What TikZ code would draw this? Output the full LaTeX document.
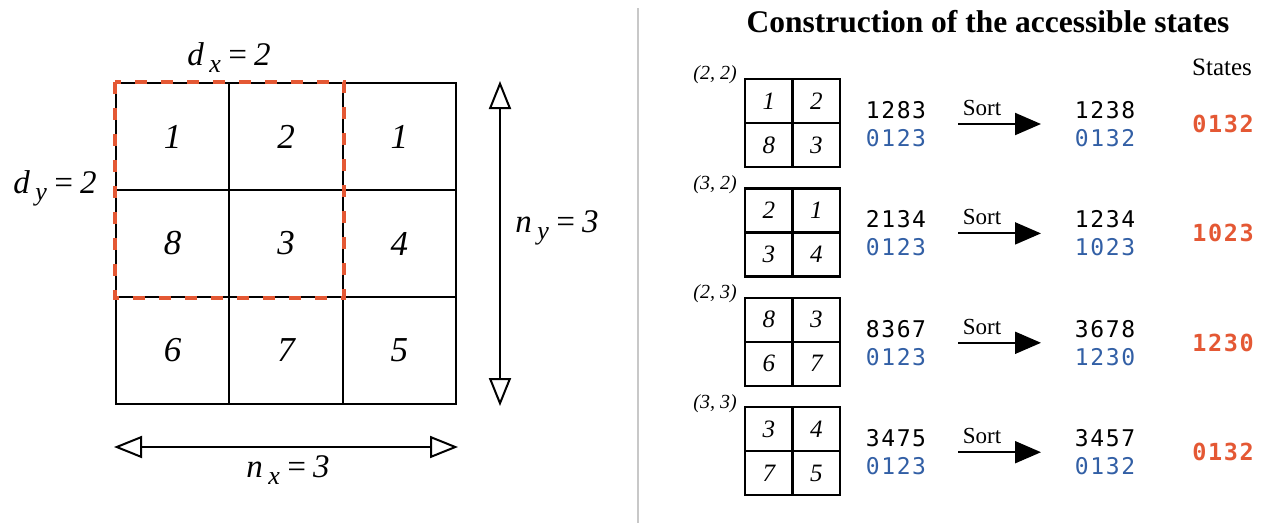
\documentclass[tikz,border=0pt]{standalone}
\usepackage{fontspec}
\setmainfont{Liberation Serif}
\setmonofont[LetterSpace=7]{DejaVu Sans Mono}
\usetikzlibrary{arrows.meta}
\definecolor{dashred}{RGB}{228,88,52}
\definecolor{idxblue}{RGB}{50,95,165}
\definecolor{divgray}{RGB}{200,200,200}
\newcommand{\subl}[3]{#1\,\raisebox{-7pt}{\fontsize{26}{26}\selectfont #2}\,=\,#3}
\begin{document}
\begin{tikzpicture}[x=1pt,y=-1pt,
  bigcell/.style={draw, line width=2.2pt, minimum width=113.33pt, minimum height=107pt, inner sep=0pt, font=\fontsize{35}{35}\selectfont\itshape},
  smallcell/.style={draw, line width=2.4pt, minimum width=47.5pt, minimum height=44pt, inner sep=0pt, font=\fontsize{25}{25}\selectfont\itshape},
  dimlabel/.style={inner sep=0pt, font=\fontsize{33}{33}\selectfont\itshape},
  coordlabel/.style={inner sep=0pt, font=\fontsize{20}{20}\selectfont\itshape},
  rawnum/.style={inner sep=0pt, font=\fontsize{23}{23}\selectfont\ttfamily},
  idxnum/.style={inner sep=0pt, text=idxblue, font=\fontsize{23}{23}\selectfont\ttfamily},
  statenum/.style={inner sep=0pt, text=dashred, font=\fontsize{23.5}{23.5}\selectfont\ttfamily\bfseries},
  sortlabel/.style={inner sep=0pt, font=\fontsize{23}{23}\selectfont},
  dimarrow/.style={line width=2pt, {Triangle[open,length=28pt,width=22pt,line width=2pt]}-{Triangle[open,length=28pt,width=22pt,line width=2pt]}},
  sortarrow/.style={line width=2pt, -{Triangle[length=26pt,width=22pt]}}
]
\useasboundingbox (0,0) rectangle (1263,523);

% ---- big grid ----
\node[bigcell] (c11) at (172.67,136.5) {1};
\node[bigcell] (c12) at (286,136.5) {2};
\node[bigcell] (c13) at (399.33,136.5) {1};
\node[bigcell] (c21) at (172.67,243.5) {8};
\node[bigcell] (c22) at (286,243.5) {3};
\node[bigcell] (c23) at (399.33,243.5) {4};
\node[bigcell] (c31) at (172.67,350.5) {6};
\node[bigcell] (c32) at (286,350.5) {7};
\node[bigcell] (c33) at (399.33,350.5) {5};

\draw[dashred, line width=4.5pt, dash pattern=on 12pt off 14pt] (c11.north west) rectangle (c22.south east);

\node[dimlabel] (dx) at (229,58) {\subl{d}{x}{2}};
\node[dimlabel] (dy) at (55,188) {\subl{d}{y}{2}};

\coordinate (nxl) at (114,447);
\coordinate (nxr) at (458,447);
\draw[dimarrow] (nxl) -- (nxr);
\node[dimlabel] (nx) at (288,470) {\subl{n}{x}{3}};

\coordinate (nyt) at (500,81);
\coordinate (nyb) at (500,406);
\draw[dimarrow] (nyt) -- (nyb);
\node[dimlabel] (ny) at (557,228) {\subl{n}{y}{3}};

% ---- divider ----
\coordinate (divt) at (638,8);
\coordinate (divb) at (638,523);
\draw[divgray, line width=2pt] (divt) -- (divb);

% ---- right panel ----
\node[inner sep=0pt, font=\fontsize{31.5}{31.5}\selectfont\bfseries] (title) at (988,22) {Construction of the accessible states};
\node[inner sep=0pt, font=\fontsize{25}{25}\selectfont] (stateshdr) at (1222,67) {States};

\foreach \k/\lab/\a/\b/\c/\d/\raw/\sraw/\sidx in {
  0/{(2, 2)}/1/2/8/3/1283/1238/0132,
  1/{(3, 2)}/2/1/3/4/2134/1234/1023,
  2/{(2, 3)}/8/3/6/7/8367/3678/1230,
  3/{(3, 3)}/3/4/7/5/3475/3457/0132}{
  \pgfmathsetmacro{\yo}{109.4*\k}
  \begin{scope}[yshift=-\yo pt]
    \node[coordlabel] (lab\k) at (715,75) {\lab};
    \node[smallcell] (s\k a) at (768.75,101) {\a};
    \node[smallcell] (s\k b) at (816.25,101) {\b};
    \node[smallcell] (s\k c) at (768.75,145) {\c};
    \node[smallcell] (s\k d) at (816.25,145) {\d};
    \node[rawnum] (raw\k) at (896,110) {\raw};
    \node[idxnum] (idx\k) at (896,138) {0123};
    \node[sortlabel] (sort\k) at (982,108) {Sort};
    \coordinate (sa\k) at (958,124);
    \coordinate (sb\k) at (1041,124);
    \draw[sortarrow] (sa\k) -- (sb\k);
    \node[rawnum] (sraw\k) at (1105,110) {\sraw};
    \node[idxnum] (sidx\k) at (1105,138) {\sidx};
    \node[statenum] (st\k) at (1223,124) {\sidx};
  \end{scope}
}
\end{tikzpicture}
\end{document}
